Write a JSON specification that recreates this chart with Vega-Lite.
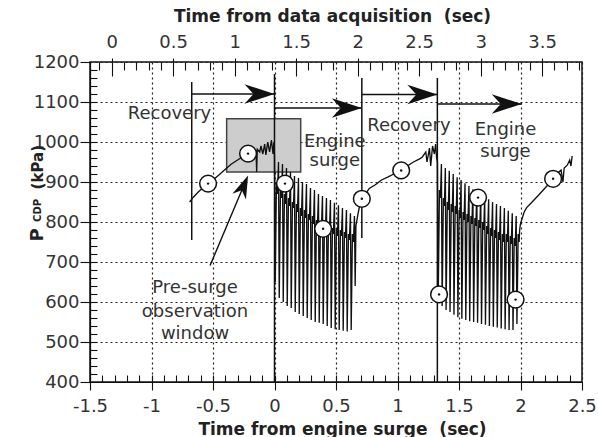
{
  "$schema": "https://vega.github.io/schema/vega-lite/v6.json",
  "width": 492,
  "height": 320,
  "autosize": {"type": "none"},
  "padding": {"left": 90, "top": 62, "right": 16, "bottom": 55},
  "background": "white",
  "config": {
    "font": "DejaVu Sans",
    "view": {"stroke": "#111", "strokeWidth": 1.5},
    "axis": {
      "domainColor": "#111", "domainWidth": 1.2,
      "tickColor": "#111", "tickWidth": 1.1,
      "labelFont": "DejaVu Sans", "labelFontSize": 18, "labelColor": "#333",
      "labelFlush": false, "labelOverlap": false, "labelBound": false,
      "titleFont": "DejaVu Sans", "titleFontSize": 17, "titleFontWeight": "bold", "titleColor": "#222"
    }
  },
  "datasets": {
    "trace": [
      {"t": -0.69, "p": 850}, {"t": -0.66, "p": 862}, {"t": -0.62, "p": 875}, {"t": -0.58, "p": 886},
      {"t": -0.54, "p": 896}, {"t": -0.5, "p": 905}, {"t": -0.45, "p": 918}, {"t": -0.4, "p": 932},
      {"t": -0.35, "p": 945}, {"t": -0.3, "p": 955}, {"t": -0.25, "p": 965}, {"t": -0.215, "p": 971},
      {"t": -0.18, "p": 975}, {"t": -0.15, "p": 978}, {"t": -0.145, "p": 925}, {"t": -0.14, "p": 982},
      {"t": -0.12, "p": 975}, {"t": -0.11, "p": 990}, {"t": -0.095, "p": 970}, {"t": -0.08, "p": 995},
      {"t": -0.07, "p": 968}, {"t": -0.055, "p": 1000}, {"t": -0.04, "p": 975}, {"t": -0.025, "p": 1005},
      {"t": -0.012, "p": 970}, {"t": -0.005, "p": 1000},

      {"t": 0.0, "p": 965}, {"t": 0.006, "p": 650}, {"t": 0.016, "p": 900}, {"t": 0.024, "p": 870},
      {"t": 0.0325, "p": 950}, {"t": 0.0385, "p": 610}, {"t": 0.0485, "p": 880}, {"t": 0.0565, "p": 860},
      {"t": 0.065, "p": 945}, {"t": 0.071, "p": 600}, {"t": 0.081, "p": 870}, {"t": 0.089, "p": 845},
      {"t": 0.0975, "p": 935}, {"t": 0.1035, "p": 590}, {"t": 0.1135, "p": 860}, {"t": 0.1215, "p": 840},
      {"t": 0.13, "p": 925}, {"t": 0.136, "p": 585}, {"t": 0.146, "p": 850}, {"t": 0.154, "p": 835},
      {"t": 0.1625, "p": 915}, {"t": 0.1685, "p": 575}, {"t": 0.1785, "p": 845}, {"t": 0.1865, "p": 825},
      {"t": 0.195, "p": 910}, {"t": 0.201, "p": 570}, {"t": 0.211, "p": 835}, {"t": 0.219, "p": 815},
      {"t": 0.2275, "p": 900}, {"t": 0.2335, "p": 565}, {"t": 0.2435, "p": 830}, {"t": 0.2515, "p": 810},
      {"t": 0.26, "p": 895}, {"t": 0.266, "p": 560}, {"t": 0.276, "p": 820}, {"t": 0.284, "p": 805},
      {"t": 0.2925, "p": 885}, {"t": 0.2985, "p": 555}, {"t": 0.3085, "p": 815}, {"t": 0.3165, "p": 795},
      {"t": 0.325, "p": 880}, {"t": 0.331, "p": 550}, {"t": 0.341, "p": 805}, {"t": 0.349, "p": 790},
      {"t": 0.3575, "p": 870}, {"t": 0.3635, "p": 548}, {"t": 0.3735, "p": 800}, {"t": 0.3815, "p": 785},
      {"t": 0.39, "p": 865}, {"t": 0.396, "p": 545}, {"t": 0.406, "p": 790}, {"t": 0.414, "p": 780},
      {"t": 0.4225, "p": 860}, {"t": 0.4285, "p": 540}, {"t": 0.4385, "p": 790}, {"t": 0.4465, "p": 775},
      {"t": 0.455, "p": 855}, {"t": 0.461, "p": 535}, {"t": 0.471, "p": 785}, {"t": 0.479, "p": 770},
      {"t": 0.4875, "p": 848}, {"t": 0.4935, "p": 532}, {"t": 0.5035, "p": 785}, {"t": 0.5115, "p": 765},
      {"t": 0.52, "p": 842}, {"t": 0.526, "p": 530}, {"t": 0.536, "p": 780}, {"t": 0.544, "p": 765},
      {"t": 0.5525, "p": 835}, {"t": 0.5585, "p": 528}, {"t": 0.5685, "p": 775}, {"t": 0.5765, "p": 760},
      {"t": 0.585, "p": 830}, {"t": 0.591, "p": 526}, {"t": 0.601, "p": 770}, {"t": 0.609, "p": 755},
      {"t": 0.6175, "p": 822}, {"t": 0.6235, "p": 530}, {"t": 0.6335, "p": 770}, {"t": 0.6415, "p": 750},
      {"t": 0.65, "p": 815}, {"t": 0.656, "p": 640}, {"t": 0.662, "p": 790},

      {"t": 0.68, "p": 822}, {"t": 0.695, "p": 845}, {"t": 0.71, "p": 858}, {"t": 0.74, "p": 870},
      {"t": 0.77, "p": 884}, {"t": 0.82, "p": 893}, {"t": 0.87, "p": 905}, {"t": 0.92, "p": 912},
      {"t": 0.97, "p": 920}, {"t": 1.03, "p": 929}, {"t": 1.08, "p": 940}, {"t": 1.13, "p": 950},
      {"t": 1.18, "p": 958}, {"t": 1.2, "p": 962}, {"t": 1.23, "p": 975}, {"t": 1.24, "p": 950},
      {"t": 1.26, "p": 985}, {"t": 1.27, "p": 940}, {"t": 1.285, "p": 990}, {"t": 1.3, "p": 970},
      {"t": 1.31, "p": 995}, {"t": 1.318, "p": 960},

      {"t": 1.325, "p": 950}, {"t": 1.331, "p": 610}, {"t": 1.341, "p": 880}, {"t": 1.349, "p": 860},
      {"t": 1.357, "p": 945}, {"t": 1.363, "p": 590}, {"t": 1.373, "p": 860}, {"t": 1.381, "p": 840},
      {"t": 1.389, "p": 935}, {"t": 1.395, "p": 580}, {"t": 1.405, "p": 850}, {"t": 1.413, "p": 830},
      {"t": 1.421, "p": 928}, {"t": 1.427, "p": 575}, {"t": 1.437, "p": 845}, {"t": 1.445, "p": 825},
      {"t": 1.453, "p": 920}, {"t": 1.459, "p": 568}, {"t": 1.469, "p": 840}, {"t": 1.477, "p": 820},
      {"t": 1.485, "p": 912}, {"t": 1.491, "p": 562}, {"t": 1.501, "p": 830}, {"t": 1.509, "p": 810},
      {"t": 1.517, "p": 905}, {"t": 1.523, "p": 558}, {"t": 1.533, "p": 825}, {"t": 1.541, "p": 805},
      {"t": 1.549, "p": 897}, {"t": 1.555, "p": 555}, {"t": 1.565, "p": 820}, {"t": 1.573, "p": 800},
      {"t": 1.581, "p": 890}, {"t": 1.587, "p": 552}, {"t": 1.597, "p": 815}, {"t": 1.605, "p": 795},
      {"t": 1.613, "p": 882}, {"t": 1.619, "p": 550}, {"t": 1.629, "p": 810}, {"t": 1.637, "p": 790},
      {"t": 1.645, "p": 876}, {"t": 1.651, "p": 548}, {"t": 1.661, "p": 805}, {"t": 1.669, "p": 785},
      {"t": 1.677, "p": 870}, {"t": 1.683, "p": 545}, {"t": 1.693, "p": 800}, {"t": 1.701, "p": 780},
      {"t": 1.709, "p": 862}, {"t": 1.715, "p": 543}, {"t": 1.725, "p": 790}, {"t": 1.733, "p": 770},
      {"t": 1.741, "p": 857}, {"t": 1.747, "p": 540}, {"t": 1.757, "p": 785}, {"t": 1.765, "p": 765},
      {"t": 1.773, "p": 850}, {"t": 1.779, "p": 538}, {"t": 1.789, "p": 780}, {"t": 1.797, "p": 760},
      {"t": 1.805, "p": 845}, {"t": 1.811, "p": 536}, {"t": 1.821, "p": 775}, {"t": 1.829, "p": 755},
      {"t": 1.837, "p": 840}, {"t": 1.843, "p": 534}, {"t": 1.853, "p": 770}, {"t": 1.861, "p": 750},
      {"t": 1.869, "p": 835}, {"t": 1.875, "p": 532}, {"t": 1.885, "p": 770}, {"t": 1.893, "p": 750},
      {"t": 1.901, "p": 828}, {"t": 1.907, "p": 530}, {"t": 1.917, "p": 765}, {"t": 1.925, "p": 745},
      {"t": 1.933, "p": 822}, {"t": 1.939, "p": 530}, {"t": 1.949, "p": 760}, {"t": 1.957, "p": 740},
      {"t": 1.965, "p": 815}, {"t": 1.971, "p": 545}, {"t": 1.981, "p": 770}, {"t": 1.989, "p": 750},

      {"t": 1.993, "p": 780}, {"t": 2.0, "p": 796}, {"t": 2.03, "p": 825}, {"t": 2.05, "p": 836},
      {"t": 2.1, "p": 852}, {"t": 2.15, "p": 868}, {"t": 2.2, "p": 885}, {"t": 2.24, "p": 898},
      {"t": 2.265, "p": 908}, {"t": 2.3, "p": 922}, {"t": 2.33, "p": 930}, {"t": 2.345, "p": 900},
      {"t": 2.355, "p": 935}, {"t": 2.38, "p": 942}, {"t": 2.4, "p": 955}, {"t": 2.41, "p": 940},
      {"t": 2.42, "p": 965}
    ],
    "markers": [
      {"t": -0.54, "p": 896}, {"t": -0.215, "p": 971}, {"t": 0.085, "p": 896}, {"t": 0.395, "p": 783},
      {"t": 0.71, "p": 858}, {"t": 1.03, "p": 929}, {"t": 1.338, "p": 619}, {"t": 1.655, "p": 861},
      {"t": 1.96, "p": 606}, {"t": 2.265, "p": 908}
    ],
    "events": [
      {"t": -0.673, "lo": 755, "hi": 1150},
      {"t": 0.0, "lo": 400, "hi": 1170},
      {"t": 0.71, "lo": 760, "hi": 1160},
      {"t": 1.324, "lo": 400, "hi": 1160}
    ],
    "phases": [
      {"from": -0.673, "to": 0.0, "p": 1120},
      {"from": 0.0, "to": 0.71, "p": 1085},
      {"from": 0.71, "to": 1.324, "p": 1119},
      {"from": 1.324, "to": 2.01, "p": 1095}
    ],
    "notes": [
      {"t": -0.854, "p": 1071, "label": "Recovery"},
      {"t": 0.49, "p": 1001, "label": "Engine"},
      {"t": 0.49, "p": 952, "label": "surge"},
      {"t": 1.093, "p": 1041, "label": "Recovery"},
      {"t": 1.878, "p": 1030, "label": "Engine"},
      {"t": 1.878, "p": 976, "label": "surge"},
      {"t": -0.646, "p": 634, "label": "Pre-surge"},
      {"t": -0.646, "p": 575, "label": "observation"},
      {"t": -0.646, "p": 521, "label": "window"}
    ]
  },
  "layer": [
    {
      "data": {"values": [{"t0": -0.389, "t1": 0.213, "p0": 925, "p1": 1058}]},
      "mark": {"type": "rect", "fill": "#cdcdcd", "stroke": "#444", "strokeWidth": 1.5},
      "encoding": {
        "x": {
          "field": "t0", "type": "quantitative",
          "scale": {"domain": [-1.5, 2.5], "nice": false, "zero": false},
          "axis": {
            "orient": "bottom",
            "values": [-1.5, -1, -0.5, 0, 0.5, 1, 1.5, 2, 2.5],
            "labelExpr": "replace(format(datum.value, '~g'), '\u2212', '-')",
            "grid": true, "gridDash": [2, 3], "gridColor": "#222", "gridWidth": 1.2,
            "tickSize": 8, "labelPadding": 7,
            "title": "Time from engine surge\u00a0 (sec)", "titlePadding": 6, "titleX": 252
          }
        },
        "x2": {"field": "t1"},
        "y": {
          "field": "p0", "type": "quantitative",
          "scale": {"domain": [400, 1200], "nice": false, "zero": false},
          "axis": {
            "orient": "left",
            "values": [400, 500, 600, 700, 800, 900, 1000, 1100, 1200],
            "format": "d",
            "grid": true, "gridDash": [2, 3], "gridColor": "#222", "gridWidth": 1.2,
            "tickSize": 10, "labelPadding": 1,
            "title": null
          }
        },
        "y2": {"field": "p1"}
      }
    },
    {
      "data": {"name": "events"},
      "mark": {"type": "rule", "color": "#111", "strokeWidth": 1.5},
      "encoding": {
        "x": {"field": "t", "type": "quantitative", "scale": {"domain": [-1.5, 2.5], "nice": false, "zero": false}, "axis": null},
        "y": {"field": "lo", "type": "quantitative", "scale": {"domain": [400, 1200], "nice": false, "zero": false}, "axis": null},
        "y2": {"field": "hi"}
      }
    },
    {
      "data": {"name": "trace"},
      "mark": {"type": "line", "color": "#111", "strokeWidth": 1.35},
      "encoding": {
        "x": {"field": "t", "type": "quantitative", "scale": {"domain": [-1.5, 2.5], "nice": false, "zero": false}, "axis": null},
        "y": {"field": "p", "type": "quantitative", "scale": {"domain": [400, 1200], "nice": false, "zero": false}, "axis": null}
      }
    },
    {
      "data": {"name": "markers"},
      "mark": {"type": "point", "shape": "circle", "filled": true, "fill": "white", "stroke": "#111", "strokeWidth": 1.5, "size": 280, "opacity": 1},
      "encoding": {
        "x": {"field": "t", "type": "quantitative", "scale": {"domain": [-1.5, 2.5], "nice": false, "zero": false}, "axis": null},
        "y": {"field": "p", "type": "quantitative", "scale": {"domain": [400, 1200], "nice": false, "zero": false}, "axis": null}
      }
    },
    {
      "data": {"name": "markers"},
      "mark": {"type": "circle", "color": "#111", "size": 6, "opacity": 1},
      "encoding": {
        "x": {"field": "t", "type": "quantitative", "scale": {"domain": [-1.5, 2.5], "nice": false, "zero": false}, "axis": null},
        "y": {"field": "p", "type": "quantitative", "scale": {"domain": [400, 1200], "nice": false, "zero": false}, "axis": null}
      }
    },
    {
      "data": {"name": "phases"},
      "mark": {"type": "rule", "color": "#111", "strokeWidth": 1.5},
      "encoding": {
        "x": {"field": "from", "type": "quantitative", "scale": {"domain": [-1.5, 2.5], "nice": false, "zero": false}, "axis": null},
        "x2": {"field": "to"},
        "y": {"field": "p", "type": "quantitative", "scale": {"domain": [400, 1200], "nice": false, "zero": false}, "axis": null}
      }
    },
    {
      "data": {"name": "phases"},
      "mark": {"type": "point", "shape": "M0,0L-2,-0.65L-1.4,0L-2,0.65Z", "filled": true, "color": "#111", "size": 900, "opacity": 1},
      "encoding": {
        "x": {"field": "to", "type": "quantitative", "scale": {"domain": [-1.5, 2.5], "nice": false, "zero": false}, "axis": null},
        "y": {"field": "p", "type": "quantitative", "scale": {"domain": [400, 1200], "nice": false, "zero": false}, "axis": null}
      }
    },
    {
      "data": {"values": [{"t0": -0.524, "p0": 691, "t1": -0.235, "p1": 902}]},
      "mark": {"type": "rule", "color": "#111", "strokeWidth": 1.4},
      "encoding": {
        "x": {"field": "t0", "type": "quantitative", "scale": {"domain": [-1.5, 2.5], "nice": false, "zero": false}, "axis": null},
        "y": {"field": "p0", "type": "quantitative", "scale": {"domain": [400, 1200], "nice": false, "zero": false}, "axis": null},
        "x2": {"field": "t1"},
        "y2": {"field": "p1"}
      }
    },
    {
      "data": {"values": [{"t": -0.215, "p": 916, "dir": 293}]},
      "mark": {"type": "point", "shape": "M0,0L-2,-0.65L-1.4,0L-2,0.65Z", "filled": true, "color": "#111", "size": 520, "opacity": 1},
      "encoding": {
        "x": {"field": "t", "type": "quantitative", "scale": {"domain": [-1.5, 2.5], "nice": false, "zero": false}, "axis": null},
        "y": {"field": "p", "type": "quantitative", "scale": {"domain": [400, 1200], "nice": false, "zero": false}, "axis": null},
        "angle": {"field": "dir", "type": "quantitative", "scale": null}
      }
    },
    {
      "data": {"name": "notes"},
      "mark": {"type": "text", "font": "DejaVu Sans", "fontSize": 18, "color": "#333", "align": "center", "baseline": "middle"},
      "encoding": {
        "x": {"field": "t", "type": "quantitative", "scale": {"domain": [-1.5, 2.5], "nice": false, "zero": false}, "axis": null},
        "y": {"field": "p", "type": "quantitative", "scale": {"domain": [400, 1200], "nice": false, "zero": false}, "axis": null},
        "text": {"field": "label"}
      }
    },
    {
      "data": {"values": [
        {"t": -1.92, "p": 768, "label": "P", "size": 18},
        {"t": -1.925, "p": 829, "label": "CDP", "size": 10},
        {"t": -1.92, "p": 937, "label": "(kPa)", "size": 15}
      ]},
      "mark": {"type": "text", "font": "DejaVu Sans", "fontWeight": "bold", "color": "#222", "align": "center", "baseline": "middle", "angle": 270},
      "encoding": {
        "x": {"field": "t", "type": "quantitative", "scale": {"domain": [-1.5, 2.5], "nice": false, "zero": false}, "axis": null},
        "y": {"field": "p", "type": "quantitative", "scale": {"domain": [400, 1200], "nice": false, "zero": false}, "axis": null},
        "text": {"field": "label"},
        "size": {"field": "size", "type": "quantitative", "scale": null}
      }
    },
    {
      "data": {"values": [{"s": 0}]},
      "mark": {"type": "rule", "opacity": 0},
      "encoding": {
        "x": {
          "field": "s", "type": "quantitative",
          "scale": {"domain": [-0.176, 3.824], "nice": false, "zero": false},
          "axis": {
            "orient": "top",
            "values": [0, 0.5, 1, 1.5, 2, 2.5, 3, 3.5],
            "labelExpr": "format(datum.value, '~g')",
            "grid": false, "domain": false,
            "tickSize": 4, "labelPadding": 7,
            "title": "Time from data acquisition\u00a0 (sec)", "titlePadding": 8, "titleX": 242
          }
        }
      }
    },
    {
      "data": {"values": [{"s": 0}]},
      "mark": {"type": "rule", "opacity": 0},
      "encoding": {
        "x": {
          "field": "s", "type": "quantitative",
          "scale": {"domain": [-0.176, 3.824], "nice": false, "zero": false},
          "axis": {
            "orient": "top",
            "values": [0, 0.5, 1, 1.5, 2, 2.5, 3, 3.5],
            "labels": false, "grid": false, "domain": false,
            "tickSize": -14, "title": null
          }
        }
      }
    },
    {
      "data": {"values": [{"s": 0}]},
      "mark": {"type": "rule", "opacity": 0},
      "encoding": {
        "x": {
          "field": "s", "type": "quantitative",
          "scale": {"domain": [-0.176, 3.824], "nice": false, "zero": false},
          "axis": {
            "orient": "top",
            "values": [-0.1, 0.1, 0.2, 0.3, 0.4, 0.6, 0.7, 0.8, 0.9, 1.1, 1.2, 1.3, 1.4, 1.6, 1.7, 1.8, 1.9, 2.1, 2.2, 2.3, 2.4, 2.6, 2.7, 2.8, 2.9, 3.1, 3.2, 3.3, 3.4, 3.6, 3.7, 3.8],
            "labels": false, "grid": false, "domain": false,
            "tickSize": -8, "title": null
          }
        }
      }
    },
    {
      "data": {"values": [{"s": 0}]},
      "mark": {"type": "rule", "opacity": 0},
      "encoding": {
        "x": {
          "field": "s", "type": "quantitative",
          "scale": {"domain": [-1.5, 2.5], "nice": false, "zero": false},
          "axis": {
            "orient": "bottom",
            "values": [-1.4, -1.3, -1.2, -1.1, -1, -0.9, -0.8, -0.7, -0.6, -0.5, -0.4, -0.3, -0.2, -0.1, 0, 0.1, 0.2, 0.3, 0.4, 0.5, 0.6, 0.7, 0.8, 0.9, 1, 1.1, 1.2, 1.3, 1.4, 1.5, 1.6, 1.7, 1.8, 1.9, 2, 2.1, 2.2, 2.3, 2.4],
            "labels": false, "grid": false, "domain": false,
            "tickSize": -7, "title": null
          }
        }
      }
    },
    {
      "data": {"values": [{"v": 800}]},
      "mark": {"type": "rule", "opacity": 0},
      "encoding": {
        "y": {
          "field": "v", "type": "quantitative",
          "scale": {"domain": [400, 1200], "nice": false, "zero": false},
          "axis": {
            "orient": "left",
            "values": [420, 440, 460, 480, 500, 520, 540, 560, 580, 600, 620, 640, 660, 680, 700, 720, 740, 760, 780, 800, 820, 840, 860, 880, 900, 920, 940, 960, 980, 1000, 1020, 1040, 1060, 1080, 1100, 1120, 1140, 1160, 1180],
            "labels": false, "grid": false, "domain": false,
            "tickSize": -7, "title": null
          }
        }
      }
    }
  ],
  "resolve": {"scale": {"x": "independent", "y": "independent"}}
}
